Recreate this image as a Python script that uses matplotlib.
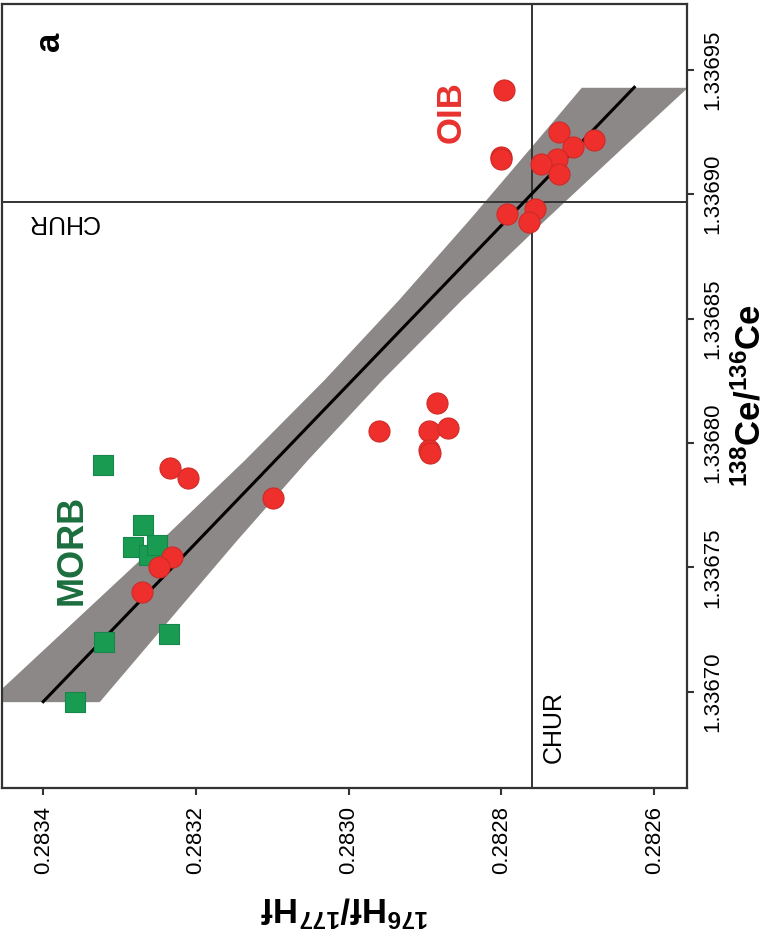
import numpy as np
import matplotlib
matplotlib.use("Agg")
from matplotlib import pyplot as plt

plt.rcParams["font.family"] = ["Liberation Sans", "DejaVu Sans"]
plt.rcParams["mathtext.fontset"] = "custom"
plt.rcParams["mathtext.rm"] = "Liberation Sans"
plt.rcParams["mathtext.bf"] = "Liberation Sans:bold"

# MORB samples (squares)
morb_hf = [0.283322, 0.283269, 0.283283, 0.283262, 0.283251, 0.283321, 0.283235, 0.283358]
morb_ce = [1.336791, 1.336767, 1.336758, 1.336755, 1.336759, 1.336720, 1.336723, 1.336696]

# OIB samples (circles)
oib_hf = [0.283234, 0.283210, 0.283099, 0.283231, 0.283248, 0.283271,
          0.282885, 0.282960, 0.282895, 0.282870, 0.282895, 0.282893,
          0.282796, 0.282800, 0.282800, 0.282724, 0.282679, 0.282706,
          0.282727, 0.282748, 0.282724, 0.282793, 0.282756, 0.282764]
oib_ce = [1.336790, 1.336786, 1.336778, 1.336754, 1.336750, 1.336740,
          1.336816, 1.336805, 1.336805, 1.336806, 1.336797, 1.336796,
          1.336942, 1.336915, 1.336914, 1.336925, 1.336922, 1.336919,
          1.336914, 1.336912, 1.336908, 1.336892, 1.336894, 1.336889]

# regression line end points
fit_ce = [1.336696, 1.336943]
fit_hf = [0.283400, 0.282626]

# error envelope: half width (in Hf) at several Ce levels
band_ce = [1.336696, 1.3367288, 1.336761, 1.3367932, 1.3368254,
           1.3368576, 1.3368897, 1.3369219, 1.336943]
band_hw = [7.33e-5, 6.13e-5, 4.97e-5, 4.12e-5, 3.80e-5,
           4.12e-5, 4.97e-5, 6.13e-5, 6.95e-5]

# chondritic reference values
chur_hf = 0.28276
chur_ce = 1.336897

hf_ticks = [0.2834, 0.2832, 0.2830, 0.2828, 0.2826]
hf_labels = ["0.2834", "0.2832", "0.2830", "0.2828", "0.2826"]
ce_ticks = [1.33670, 1.33675, 1.33680, 1.33685, 1.33690, 1.33695]
ce_labels = ["1.33670", "1.33675", "1.33680", "1.33685", "1.33690", "1.33695"]

fig = plt.figure(figsize=(7.7, 9.44), dpi=100)
ax = fig.add_axes([0.0026, 0.1653, 0.8896, 0.8305])

# envelope around the regression line
band_ce = np.array(band_ce)
band_mid = fit_hf[0] + (band_ce - fit_ce[0]) * (fit_hf[1] - fit_hf[0]) / (fit_ce[1] - fit_ce[0])
ax.fill_betweenx(band_ce, band_mid - np.array(band_hw), band_mid + np.array(band_hw),
                 color="#8d8888", lw=0, zorder=1)

ax.axvline(chur_hf, color="#333333", lw=1.4, zorder=2)
ax.axhline(chur_ce, color="#333333", lw=1.4, zorder=2)

ax.plot(fit_hf, fit_ce, color="black", lw=2.2, zorder=3)

ax.scatter(morb_hf, morb_ce, marker="s", s=205, color="#1a9b52",
           edgecolor="#16864a", linewidth=0.8, zorder=4)
ax.scatter(oib_hf, oib_ce, marker="o", s=230, color="#ee2f2b",
           edgecolor="#cf2a28", linewidth=0.8, zorder=5)

ax.set_xlim(0.283454, 0.282557)
ax.set_ylim(1.3366613, 1.3369765)

# ticks: Hf on the bottom, Ce on the right
ax.set_xticks(hf_ticks, hf_labels, rotation=90)
ax.yaxis.tick_right()
ax.set_yticks(ce_ticks, ce_labels, rotation=90, va="center")
ax.tick_params(axis="both", direction="out", length=5, width=1.5,
               color="#333333", labelsize=16)
ax.tick_params(axis="x", pad=8)
ax.tick_params(axis="y", pad=6)
for sp in ax.spines.values():
    sp.set_linewidth(1.6)
    sp.set_color("#333333")

ax.yaxis.set_label_position("right")
ax.set_ylabel(r"$\mathbf{^{138}Ce/^{136}Ce}$", fontsize=25, rotation=90, labelpad=7)
ax.set_xlabel(r"$\mathbf{^{176}Hf/^{177}Hf}$", fontsize=25, rotation=180, labelpad=11)

# annotations
ax.text(0.283392, 1.3369613, "a", fontsize=25, fontweight="bold", rotation=90,
        ha="center", va="center")
ax.text(0.283374, 1.336889, "CHUR", fontsize=18, rotation=180, ha="center", va="center")
ax.text(0.282732, 1.336686, "CHUR", fontsize=18, rotation=90, ha="center", va="center")
ax.text(0.283362, 1.336757, "MORB", fontsize=26, fontweight="bold", rotation=90,
        color="#1b6e3d", ha="center", va="center")
ax.text(0.282866, 1.336933, "OIB", fontsize=25, fontweight="bold", rotation=90,
        color="#e8322f", ha="center", va="center")

fig.savefig("out.png", dpi=100)
